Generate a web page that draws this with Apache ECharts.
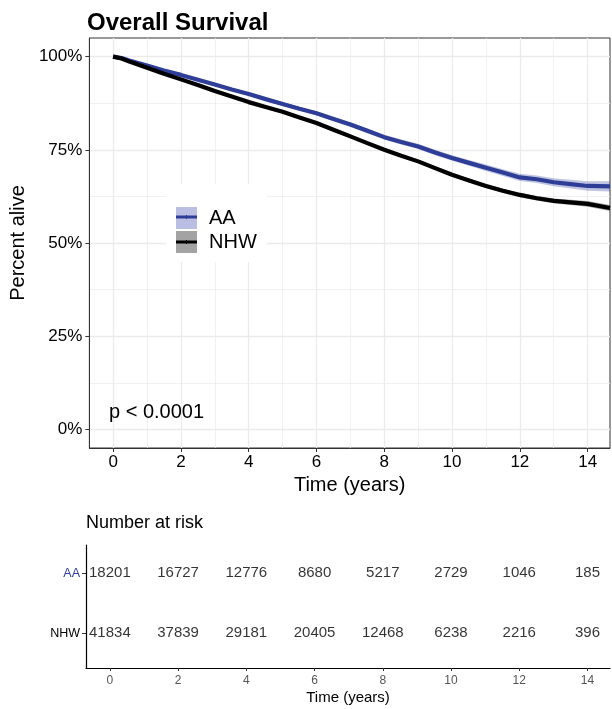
<!DOCTYPE html>
<html>
<head>
<meta charset="utf-8">
<script src="https://cdn.jsdelivr.net/npm/echarts@6/dist/echarts.min.js"></script>
<style>html,body{margin:0;padding:0;background:#fff;}#c{width:612px;height:709px;}</style>
</head>
<body>
<div id="c"></div>
<script>
// ---- data ----
const times = [0,0.25,0.5,1,1.5,2,2.5,3,3.5,4,4.5,5,5.5,6,6.5,7,7.5,8,8.5,9,9.5,10,10.5,11,11.5,12,12.5,13,13.5,14,14.66];
const aaSurv = [100,99.6,98.9,97.6,96.3,95.1,93.8,92.5,91.2,90.0,88.6,87.3,86.0,84.8,83.3,81.8,80.1,78.4,77.1,75.9,74.3,72.8,71.5,70.2,68.9,67.6,67.1,66.3,65.8,65.3,65.2];
const nhwSurv = [100,99.5,98.6,97.0,95.4,93.9,92.4,90.8,89.3,87.8,86.5,85.2,83.7,82.2,80.4,78.6,76.8,75.0,73.4,71.9,70.1,68.3,66.8,65.3,64.0,62.9,62.0,61.3,60.9,60.5,59.4];
const aaCiHalf = [0,0.1,0.15,0.2,0.25,0.3,0.35,0.4,0.42,0.45,0.48,0.5,0.52,0.55,0.58,0.6,0.63,0.65,0.68,0.7,0.73,0.75,0.8,0.85,0.9,0.95,1.0,1.1,1.2,1.3,1.4];
const nhwCiHalf = [0,0.06,0.1,0.12,0.15,0.18,0.2,0.22,0.24,0.26,0.28,0.3,0.32,0.34,0.36,0.38,0.4,0.42,0.44,0.46,0.48,0.5,0.52,0.55,0.58,0.6,0.63,0.66,0.7,0.75,0.8];
const xTicks = [0,2,4,6,8,10,12,14];
const xMinor = [1,3,5,7,9,11,13];
const yTicks = [0,25,50,75,100];
const yMinor = [12.5,37.5,62.5,87.5];
const riskTimes = [0,2,4,6,8,10,12,14];
const aaRisk = [18201,16727,12776,8680,5217,2729,1046,185];
const nhwRisk = [41834,37839,29181,20405,12468,6238,2216,396];
const groups = ['NHW','AA'];

const BLUE = '#2E3D98';
const FONT = "'Liberation Sans', Arial, sans-serif";
const XMIN = -0.7, XMAX = 14.66;

function pairs(xs, ys){ return xs.map((x,i)=>[x, ys[i]]); }

function bandSeries(surv, half, color){
  return {
    type:'custom', xAxisIndex:0, yAxisIndex:0, silent:true, z:1,
    data: times.map((t,i)=>[t, surv[i]-half[i], surv[i]+half[i]]),
    renderItem: function(params, api){
      if (params.dataIndex !== 0) return null;
      const up = [], lo = [];
      for (let i=0;i<times.length;i++){
        lo.push(api.coord([times[i], surv[i]-half[i]]));
        up.push(api.coord([times[i], surv[i]+half[i]]));
      }
      const pts = lo.concat(up.reverse());
      return {type:'polygon', shape:{points:pts}, style:{fill:color, stroke:null}};
    }
  };
}

const chart = echarts.init(document.getElementById('c'), null, {renderer:'canvas'});
const gridLine = {show:true, lineStyle:{color:'#ebebeb', width:1.3}};
const minorLine = {show:true, lineStyle:{color:'#ebebeb', width:0.7}};

const option = {
  animation:false,
  textStyle:{fontFamily:FONT},
  title:[
    {text:'Overall Survival', left:82, top:4, textStyle:{fontFamily:FONT, fontSize:24, fontWeight:'bold', color:'#000', lineHeight:29}},
    {text:'Number at risk', left:81, top:507, textStyle:{fontFamily:FONT, fontSize:18, fontWeight:'normal', color:'#000', lineHeight:22}}
  ],
  grid:[
    {left:86, top:38, width:524, height:410, show:true, borderColor:'#333', borderWidth:1, containLabel:false},
    {left:86, top:545, width:524, height:123, containLabel:false}
  ],
  xAxis:[
    {type:'value', gridIndex:0, min:XMIN, max:XMAX,
     name:'Time (years)', nameLocation:'middle', nameGap:26, nameTextStyle:{fontFamily:FONT, fontSize:20, color:'#000'},
     axisLine:{show:true, onZero:false, lineStyle:{color:'#333', width:1}},
     axisTick:{show:true, length:4, customValues:xTicks, lineStyle:{color:'#333'}},
     axisLabel:{customValues:xTicks, fontSize:17, color:'#000', margin:6, fontFamily:FONT},
     splitLine:gridLine},
    {type:'value', gridIndex:0, min:XMIN, max:XMAX, position:'bottom',
     axisLine:{show:false}, axisTick:{show:false, customValues:xMinor}, axisLabel:{show:false, customValues:xMinor},
     splitLine:minorLine},
    {type:'value', gridIndex:1, min:XMIN, max:XMAX,
     name:'Time (years)', nameLocation:'middle', nameGap:22, nameTextStyle:{fontFamily:FONT, fontSize:15, color:'#000'},
     axisLine:{show:true, onZero:false, lineStyle:{color:'#000', width:1.2}},
     axisTick:{show:true, length:3, customValues:riskTimes, lineStyle:{color:'#333'}},
     axisLabel:{customValues:riskTimes, fontSize:12, color:'#555', margin:7, fontFamily:FONT},
     splitLine:{show:false}}
  ],
  yAxis:[
    {type:'value', gridIndex:0, min:-5, max:105,
     name:'Percent alive', nameLocation:'middle', nameGap:50, nameRotate:90, nameTextStyle:{fontFamily:FONT, fontSize:20, color:'#000'},
     axisLine:{show:true, onZero:false, lineStyle:{color:'#333', width:1}},
     axisTick:{show:true, length:4, customValues:yTicks, lineStyle:{color:'#333'}},
     axisLabel:{customValues:yTicks, fontSize:17, color:'#000', margin:7, fontFamily:FONT, formatter:v=>v+'%'},
     splitLine:gridLine},
    {type:'value', gridIndex:0, min:-5, max:105, position:'left',
     axisLine:{show:false}, axisTick:{show:false, customValues:yMinor}, axisLabel:{show:false, customValues:yMinor},
     splitLine:minorLine},
    {type:'value', gridIndex:1, min:0.42, max:2.47,
     axisLine:{show:true, onZero:false, lineStyle:{color:'#000', width:1.2}},
     axisTick:{show:true, length:4, customValues:[1,2], lineStyle:{color:'#333'}},
     axisLabel:{customValues:[1,2], margin:6, fontFamily:FONT,
       formatter:v=>{ const g = groups[Math.round(v)-1]; return g==='AA' ? '{aa|AA}' : '{nhw|NHW}'; },
       rich:{aa:{color:BLUE, fontSize:12.5, fontFamily:FONT}, nhw:{color:'#000', fontSize:12.5, fontFamily:FONT}}},
     splitLine:{show:false}}
  ],
  series:[
    bandSeries(aaSurv, aaCiHalf, 'rgba(46,61,152,0.3)'),
    bandSeries(nhwSurv, nhwCiHalf, 'rgba(0,0,0,0.35)'),
    {type:'line', name:'AA', xAxisIndex:0, yAxisIndex:0, z:2, data:pairs(times, aaSurv), symbol:'none', lineStyle:{color:BLUE, width:4.2}},
    {type:'line', name:'NHW', xAxisIndex:0, yAxisIndex:0, z:2, data:pairs(times, nhwSurv), symbol:'none', lineStyle:{color:'#000', width:4.2}},
    {type:'scatter', name:'riskAA', xAxisIndex:2, yAxisIndex:2, symbolSize:1, itemStyle:{color:'rgba(0,0,0,0)'},
     data:riskTimes.map((t,i)=>[t, 2, aaRisk[i]]),
     label:{show:true, position:'inside', formatter:p=>String(p.value[2]), fontSize:15, color:'#000', fontFamily:FONT}},
    {type:'scatter', name:'riskNHW', xAxisIndex:2, yAxisIndex:2, symbolSize:1, itemStyle:{color:'rgba(0,0,0,0)'},
     data:riskTimes.map((t,i)=>[t, 1, nhwRisk[i]]),
     label:{show:true, position:'inside', formatter:p=>String(p.value[2]), fontSize:15, color:'#000', fontFamily:FONT}}
  ],
  graphic:[
    {type:'text', left:109, top:402, z:10, style:{text:'p < 0.0001', fontSize:20, fontFamily:FONT, fill:'#000'}},
    {type:'rect', z:5, shape:{x:166, y:184, width:101, height:78}, style:{fill:'#fff'}},
    {type:'rect', z:6, shape:{x:176, y:207, width:21, height:22}, style:{fill:'#babee2'}},
    {type:'line', z:7, shape:{x1:176, y1:217, x2:197, y2:217}, style:{stroke:BLUE, lineWidth:3}},
    {type:'line', z:7, shape:{x1:186.5, y1:215, x2:186.5, y2:219}, style:{stroke:BLUE, lineWidth:1}},
    {type:'text', z:7, x:209, y:218, style:{text:'AA', fontSize:20, fontFamily:FONT, fill:'#000', verticalAlign:'middle'}},
    {type:'rect', z:6, shape:{x:176, y:231, width:21, height:22}, style:{fill:'#a3a3a3'}},
    {type:'line', z:7, shape:{x1:176, y1:242, x2:197, y2:242}, style:{stroke:'#000', lineWidth:3}},
    {type:'line', z:7, shape:{x1:186.5, y1:240, x2:186.5, y2:244}, style:{stroke:'#000', lineWidth:1}},
    {type:'text', z:7, x:209, y:242, style:{text:'NHW', fontSize:20, fontFamily:FONT, fill:'#000', verticalAlign:'middle'}}
  ]
};
chart.setOption(option);
</script>
</body>
</html>
